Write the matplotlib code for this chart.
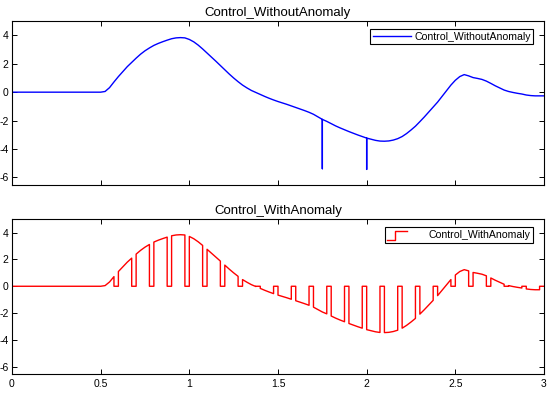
import numpy as np
import matplotlib
matplotlib.use('Agg')
import matplotlib.pyplot as plt
from matplotlib.legend_handler import HandlerLine2D
from matplotlib.lines import Line2D

plt.rcParams['font.family'] = ['Liberation Sans', 'DejaVu Sans']

time_step = 0.025
control_base = [
    0, 0, 0, 0, 0, 0, 0, 0, 0, 0,
    0, 0, 0, 0, 0, 0, 0, 0, 0, 0,
    0, 0.05, 0.32, 0.72, 1.10, 1.45, 1.80, 2.10, 2.40, 2.68,
    2.92, 3.12, 3.30, 3.44, 3.56, 3.67, 3.77, 3.83, 3.85, 3.83,
    3.72, 3.55, 3.32, 3.05, 2.76, 2.47, 2.18, 1.88, 1.58, 1.28,
    1.00, 0.74, 0.50, 0.30, 0.12, -0.02, -0.16, -0.30, -0.43, -0.55,
    -0.66, -0.76, -0.86, -0.97, -1.08, -1.19, -1.30, -1.42, -1.56, -1.74,
    -1.92, -2.06, -2.22, -2.38, -2.52, -2.65, -2.78, -2.90, -3.02, -3.13,
    -3.24, -3.32, -3.40, -3.45, -3.46, -3.44, -3.38, -3.28, -3.13, -2.92,
    -2.67, -2.40, -2.08, -1.75, -1.40, -1.05, -0.70, -0.30, 0.10, 0.50,
    0.84, 1.10, 1.24, 1.15, 1.03, 0.97, 0.90, 0.78, 0.62, 0.45,
    0.30, 0.15, 0.05, -0.02, -0.08, -0.13, -0.20, -0.24, -0.26, -0.26,
    -0.26,
]
time = np.arange(len(control_base)) * time_step

# two single-sample spikes in the clean signal
spike_times = [1.75, 2.0]
spike_values = [-5.4, -5.45]

# anomaly: signal drops to zero for 0.025 s every 0.1 s
dropout_starts = [0.575, 0.675, 0.775, 0.875, 0.975, 1.075, 1.175, 1.275, 1.375,
                  1.475, 1.575, 1.675, 1.775, 1.875, 1.975, 2.075, 2.175, 2.275,
                  2.375, 2.475, 2.575, 2.675, 2.775, 2.875, 2.975]
dropout_length = 0.025

x_ticks = [0, 0.5, 1, 1.5, 2, 2.5, 3]
x_tick_labels = ['0', '0.5', '1', '1.5', '2', '2.5', '3']
y_ticks = [-6, -4, -2, 0, 2, 4]

# build the clean series with spikes
spike_idx = {round(t / time_step): v for t, v in zip(spike_times, spike_values)}
clean_t, clean_v = [], []
for i, (t, v) in enumerate(zip(time, control_base)):
    clean_t.append(t)
    clean_v.append(v)
    if i in spike_idx:
        clean_t += [t, t]
        clean_v += [spike_idx[i], v]

# build the series with dropouts
start_idx = {round(s / time_step) for s in dropout_starts}
end_idx = {round((s + dropout_length) / time_step) for s in dropout_starts}
anom_t, anom_v = [], []
last = len(control_base) - 1
for i, (t, v) in enumerate(zip(time, control_base)):
    if i in end_idx:
        anom_t.append(t)
        anom_v.append(0)
        if i < last:
            anom_t.append(t)
            anom_v.append(v)
    elif i in start_idx:
        anom_t += [t, t]
        anom_v += [v, 0]
    else:
        anom_t.append(t)
        anom_v.append(v)


class StairsHandler(HandlerLine2D):
    # matlab-like stairs icon in the legend
    def create_artists(self, legend, orig_handle, xdescent, ydescent, width, height, fontsize, trans):
        x0 = -xdescent
        y0 = -ydescent
        xs = [x0, x0 + 0.21 * width, x0 + 0.21 * width, x0 + 0.52 * width]
        ys = [y0 - 0.25 * height, y0 - 0.25 * height, y0 + 0.9 * height, y0 + 0.9 * height]
        line = Line2D(xs, ys, color=orig_handle.get_color(), linewidth=orig_handle.get_linewidth())
        line.set_transform(trans)
        return [line]


def style_axes(ax, show_xlabels):
    ax.set_xlim(0, 3)
    ax.set_ylim(-6.55, 5)
    ax.set_xticks(x_ticks)
    ax.set_yticks(y_ticks)
    if show_xlabels:
        ax.set_xticklabels(x_tick_labels)
    else:
        ax.set_xticklabels([])
    ax.set_yticklabels([str(v) for v in y_ticks])
    ax.tick_params(axis='both', direction='in', top=True, right=True, length=3.3,
                   width=0.7, labelsize=7.5, pad=3.5, colors='black')
    ax.tick_params(axis='y', pad=2.5)
    for spine in ax.spines.values():
        spine.set_linewidth(0.8)
        spine.set_color('black')


fig = plt.figure(figsize=(5.55, 3.96), dpi=100)
ax1 = fig.add_axes([0.0216, 0.5328, 0.9586, 0.4134])
ax2 = fig.add_axes([0.0216, 0.0556, 0.9586, 0.3906])

ax1.plot(clean_t, clean_v, color='blue', linewidth=1.0, label='Control_WithoutAnomaly')
style_axes(ax1, False)
ax1.set_title('Control_WithoutAnomaly', fontsize=9.5, pad=3.5)
ax1.legend(loc='upper right', bbox_to_anchor=(0.98, 0.952), borderaxespad=0,
           fontsize=7.6, fancybox=False, framealpha=1, edgecolor='black',
           handlelength=3.6, handletextpad=0.35, borderpad=0.25).get_frame().set_linewidth(0.8)

ax2.plot(anom_t, anom_v, color='red', linewidth=1.0, label='Control_WithAnomaly')
style_axes(ax2, True)
ax2.set_title('Control_WithAnomaly', fontsize=9.5, pad=3.5)
leg2 = ax2.legend(loc='upper right', bbox_to_anchor=(0.98, 0.948), borderaxespad=0,
                  fontsize=7.6, fancybox=False, framealpha=1, edgecolor='black',
                  handlelength=3.6, handletextpad=0.35, borderpad=0.25,
                  handler_map={Line2D: StairsHandler()})
leg2.get_frame().set_linewidth(0.8)

fig.savefig('out.png', dpi=100, facecolor='white')
